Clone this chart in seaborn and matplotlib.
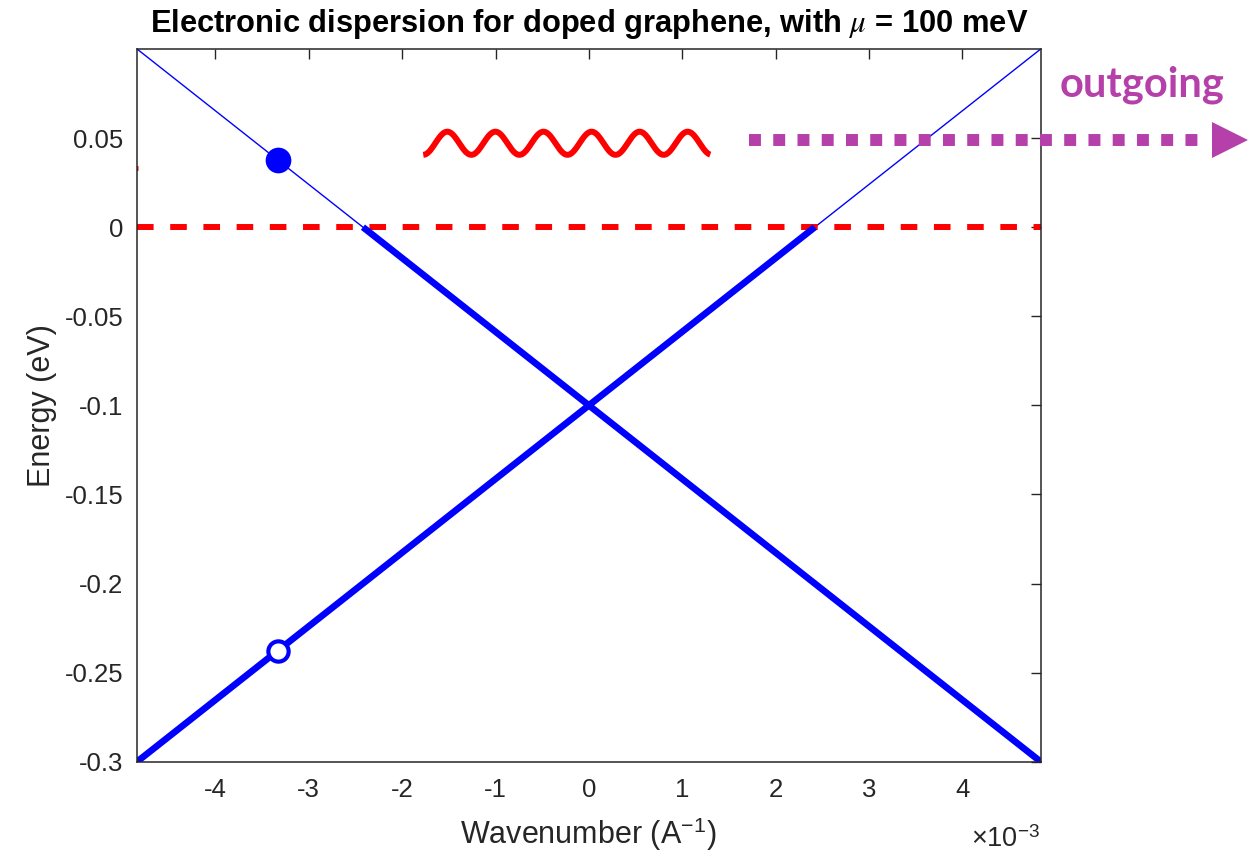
import numpy as np
import pandas as pd
import matplotlib
matplotlib.use("Agg")
import matplotlib.pyplot as plt
import seaborn as sns

# ---- band structure of doped graphene (E in eV, k in 1/Angstrom) ----
K_MAX = 4.84e-3          # half-width of the plotted k window
K_F = 2.42e-3            # Fermi wavenumber (E = 0 crossing)

# full Dirac cone branches (thin)
k_branch = [-K_MAX, K_MAX]
e_branch_down = [0.1, -0.3]      # E = -mu - v k
e_branch_up = [-0.3, 0.1]        # E = -mu + v k

# occupied states below the Fermi level (thick)
k_occ_down = [-K_F, K_MAX]
e_occ_down = [0.0, -0.3]
k_occ_up = [-K_MAX, K_F]
e_occ_up = [-0.3, 0.0]

# Fermi level
k_fermi = [-K_MAX, K_MAX]
e_fermi = [0.0, 0.0]

# excited electron and the hole it leaves behind
k_electron = [-3.33e-3]
e_electron = [0.0376]
k_hole = [-3.33e-3]
e_hole = [-0.2376]

# photon sketch (wavy line)
WAVE_K_START, WAVE_K_END = -1.774e-3, 1.30e-3
WAVE_E, WAVE_AMP, WAVE_PERIOD = 0.0471, 0.0065, 0.515e-3

# outgoing particle arrow
k_arrow = [1.71e-3, 6.55e-3]
e_arrow = [0.0487, 0.0487]
K_ARROW_HEAD = 6.87e-3

# axis ticks
x_ticks = [-4e-3, -3e-3, -2e-3, -1e-3, 0.0, 1e-3, 2e-3, 3e-3, 4e-3]
x_tick_labels = ["-4", "-3", "-2", "-1", "0", "1", "2", "3", "4"]
y_ticks = [-0.3, -0.25, -0.2, -0.15, -0.1, -0.05, 0.0, 0.05]
y_tick_labels = ["-0.3", "-0.25", "-0.2", "-0.15", "-0.1", "-0.05", "0", "0.05"]

BLUE = "#0000FF"
RED = "#FF0000"
MAGENTA = "#B540AA"
INK = "#262626"

sns.set_style("white")
plt.rcParams["font.family"] = ["Liberation Sans", "DejaVu Sans"]
plt.rcParams["mathtext.fontset"] = "custom"
plt.rcParams["mathtext.rm"] = "Liberation Sans"
plt.rcParams["mathtext.it"] = "STIXGeneral:italic"
plt.rcParams["mathtext.bf"] = "Liberation Sans:bold"

fig = plt.figure(figsize=(12.56, 8.58), dpi=100)
ax = fig.add_axes([0.1091, 0.1122, 0.8286 - 0.1091, 0.9429 - 0.1122])

# thin full branches
sns.lineplot(x=k_branch, y=e_branch_down, ax=ax, color=BLUE, linewidth=1.0)
sns.lineplot(x=k_branch, y=e_branch_up, ax=ax, color=BLUE, linewidth=1.0)

# Fermi level
sns.lineplot(x=k_fermi, y=e_fermi, ax=ax, color=RED, linewidth=4.3,
             linestyle=(0, (2.78, 2.78)), dash_capstyle="butt")

# thick occupied parts
sns.lineplot(x=k_occ_down, y=e_occ_down, ax=ax, color=BLUE, linewidth=4.8,
             solid_capstyle="butt")
sns.lineplot(x=k_occ_up, y=e_occ_up, ax=ax, color=BLUE, linewidth=4.8,
             solid_capstyle="butt")

# electron (filled) and hole (open)
ax.plot(k_electron, e_electron, "o", color=BLUE, markersize=18.5,
        markeredgewidth=0, zorder=5)
ax.plot(k_hole, e_hole, "o", markerfacecolor="white", markeredgecolor=BLUE,
        markersize=14.6, markeredgewidth=3.0, zorder=5)

# photon
k_wave = np.linspace(WAVE_K_START, WAVE_K_END, 400)
e_wave = WAVE_E - WAVE_AMP * np.cos(2 * np.pi * (k_wave - WAVE_K_START) / WAVE_PERIOD)
ax.plot(k_wave, e_wave, color=RED, linewidth=4.3, solid_capstyle="butt")

# small clipped fragment at the left edge
ax.plot([-K_MAX - 1e-4, -K_MAX + 1.5e-5], [0.033, 0.033], color=RED,
        linewidth=3.5, solid_capstyle="butt", clip_on=True)

# outgoing arrow (dotted shaft + head)
ax.plot(k_arrow, e_arrow, color=MAGENTA, linewidth=8.6,
        linestyle=(0, (1, 1.03)), dash_capstyle="butt", clip_on=False, zorder=4)
ax.plot([K_ARROW_HEAD], [e_arrow[0]], marker=">", color=MAGENTA,
        markersize=26, markeredgewidth=0, clip_on=False, zorder=4)

fig.text(1060 / 1256, 1 - 97 / 858, "outgoing", color=MAGENTA,
         fontsize=30, fontweight="bold", family="Lato", va="baseline", ha="left")

ax.set_xlim(-K_MAX, K_MAX)
ax.set_ylim(-0.3, 0.1)
ax.set_xticks(x_ticks)
ax.set_xticklabels(x_tick_labels)
ax.set_yticks(y_ticks)
ax.set_yticklabels(y_tick_labels)

ax.tick_params(axis="both", direction="in", length=7, width=1.0, colors=INK,
               labelsize=18.5, top=True, right=True)
ax.tick_params(axis="x", pad=12)
ax.tick_params(axis="y", pad=10)
for sp in ax.spines.values():
    sp.set_visible(True)
    sp.set_color(INK)
    sp.set_linewidth(1.1)

ax.set_xlabel(r"Wavenumber (A$^{-1}$)", fontsize=22, color=INK)
ax.set_ylabel("Energy (eV)", fontsize=22, color=INK)
ax.xaxis.set_label_coords(0.5, -0.075)
ax.yaxis.set_label_coords(-0.089, 0.5)

ax.text(1.0, -0.12, r"$\times$10$^{-3}$", transform=ax.transAxes,
        ha="right", va="baseline", fontsize=19.5, color=INK)

ax.set_title(r"Electronic dispersion for doped graphene, with $\mu$ = 100 meV",
             fontsize=22.2, fontweight="bold", color="black", pad=12.5)

fig.savefig("out.png", dpi=100)
